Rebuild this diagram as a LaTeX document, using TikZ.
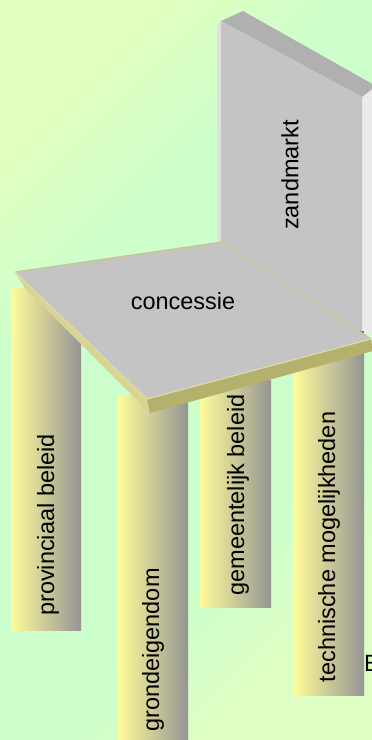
\documentclass[tikz,border=0pt]{standalone}
\usepackage{fontspec}
\setmainfont{Liberation Sans}
\definecolor{bgY}{HTML}{E2FFBE}
\definecolor{bgG}{HTML}{CCFFCC}
\definecolor{bgY2}{HTML}{DDFFC4}
\definecolor{legY}{HTML}{FFFC9A}
\definecolor{legG}{HTML}{959595}
\definecolor{greyface}{HTML}{C4C4C4}
\definecolor{greytop}{HTML}{B0B0B0}
\definecolor{greylight}{HTML}{EBEBEB}
\definecolor{greyedge}{HTML}{E0E0E0}
\definecolor{seatside}{HTML}{D8D492}
\definecolor{seatfront}{HTML}{B4B16C}
\definecolor{seatline}{HTML}{DEDAA6}
\definecolor{seatback}{HTML}{CAC48E}
\pgfdeclarehorizontalshading{bgshade}{100bp}{color(0bp)=(bgY); color(24bp)=(bgY); color(38bp)=(bgG); color(64bp)=(bgG); color(74bp)=(bgY2); color(100bp)=(bgY2)}
\begin{document}
\begin{tikzpicture}[x=1pt,y=-1pt,
  leg/.style={rectangle, inner sep=0pt, left color=legY, right color=legG, draw=none},
  lbl/.style={inner sep=0pt, font=\fontsize{23.5}{28}\selectfont, text=black},
  vlbl/.style={lbl, rotate=90}]
\useasboundingbox (0,0) rectangle (372,740);
\shade[shading=bgshade, shading angle=-45] (0,0) rectangle (372,740);
% backrest
\fill[greylight] (362,97) -- (376,80) -- (376,334) -- (362,334) -- cycle;
\fill[greytop] (221,21) -- (243,11) -- (376,86) -- (362,97) -- cycle;
\fill[greyedge] (217,27) -- (221,20) -- (221,250) -- (217,245) -- cycle;
\fill[greyface] (221,21) -- (362,97) -- (362,334) -- (221,255) -- cycle;
\fill[greytop!70!black] (360,331) rectangle (364,336);
\node[vlbl] (zand) at (290,175) {zandmarkt};
% legs
\node[leg, minimum width=70pt, minimum height=342pt] (leg1) at (46,459) {};
\node[leg, minimum width=70pt, minimum height=350pt] (leg2) at (153,570) {};
\node[leg, minimum width=71pt, minimum height=227pt] (leg3) at (235.5,493.5) {};
\node[leg, minimum width=71pt, minimum height=350pt] (leg4) at (328.5,520) {};
\node[vlbl] (t1) at (48,525) {provinciaal beleid};
\node[vlbl] (t2) at (153,650) {grondeigendom};
\node[vlbl] (t3) at (238,495) {gemeentelijk beleid};
\node[vlbl] (t4) at (329,547) {technische mogelijkheden};
\node[lbl, anchor=west] (e) at (364,663) {E};
% seat
\fill[seatside] (15,272) -- (147,399) -- (150,413) -- (25,288) -- cycle;
\fill[seatfront] (147,399) -- (371,339) -- (373,351) -- (150,413) -- cycle;
\fill[greyface] (15,272) -- (222,242) -- (371,339) -- (147,399) -- cycle;
\draw[seatback, line width=1.2pt] (15,272) -- (222,242) -- (371,339);
\draw[seatline, line width=1.2pt] (15,272) -- (147,399) -- (371,339);
\node[lbl] (conc) at (183,301) {concessie};
\end{tikzpicture}
\end{document}
